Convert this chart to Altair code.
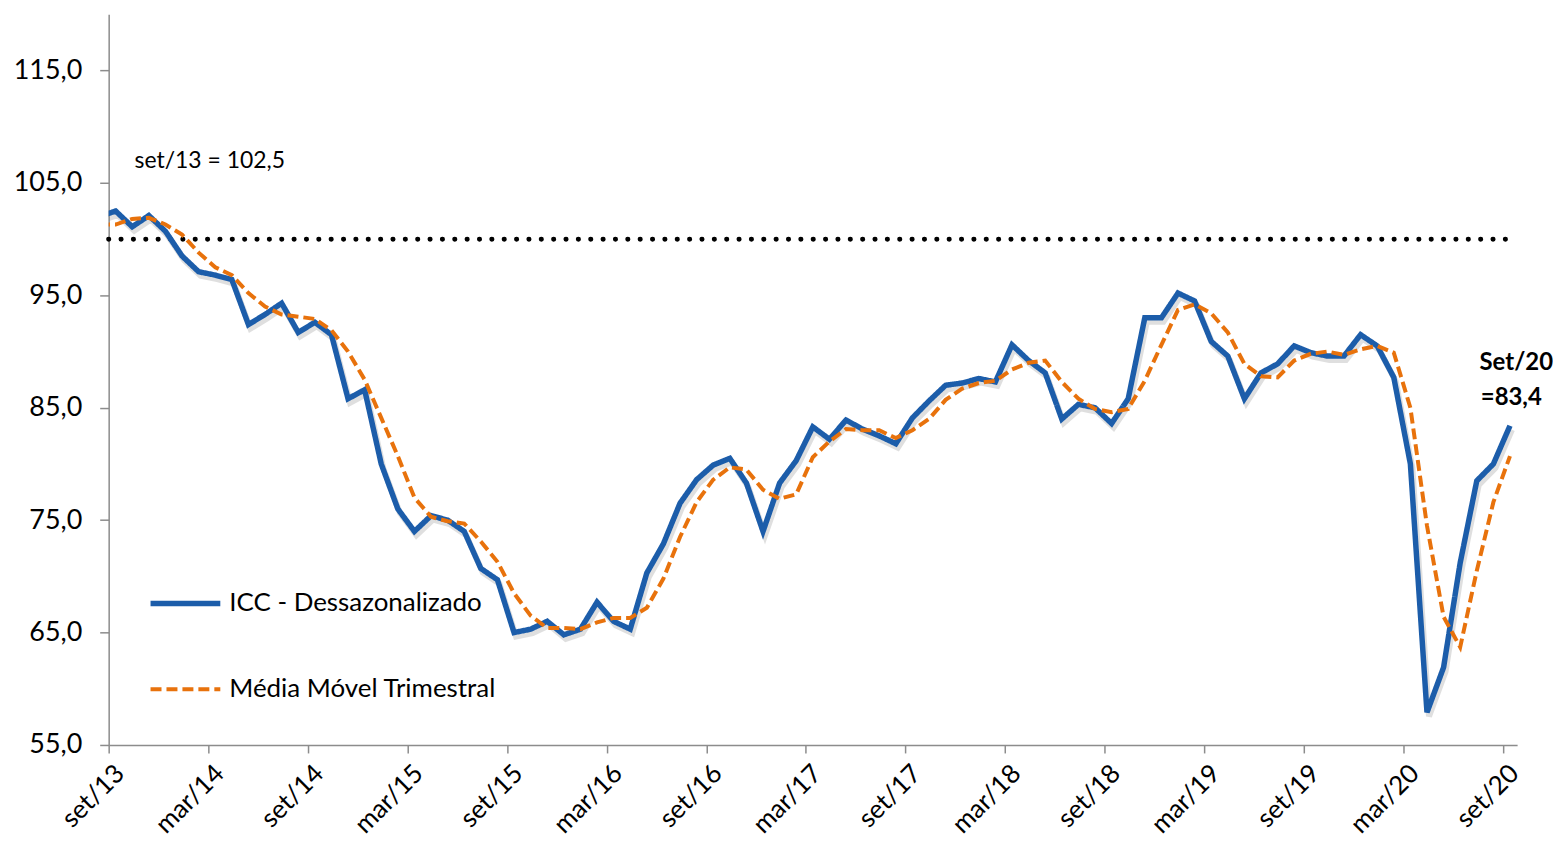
import altair as alt
import pandas as pd

# ---------------- data ----------------
series_names = ["ICC - Dessazonalizado", "Média Móvel Trimestral"]

# monthly values, ago/13 ... set/20 (first value lies just left of the axis)
icc = [102.0, 102.5, 101.1, 102.1, 100.7, 98.5, 97.1, 96.8, 96.4, 92.4,
       93.3, 94.3, 91.7, 92.6, 91.5, 85.8, 86.6, 80.0, 76.0, 74.0,
       75.4, 75.0, 74.0, 70.7, 69.7, 65.0, 65.3, 66.0, 64.8, 65.3,
       67.7, 66.0, 65.3, 70.3, 72.9, 76.5, 78.6, 79.9, 80.5, 78.3,
       74.0, 78.3, 80.3, 83.3, 82.2, 83.9, 83.1, 82.5, 81.8, 84.1,
       85.6, 87.0, 87.2, 87.6, 87.3, 90.6, 89.2, 88.1, 84.0, 85.3,
       85.0, 83.6, 85.8, 93.0, 93.0, 95.2, 94.5, 90.9, 89.6, 85.8,
       88.1, 88.9, 90.5, 89.9, 89.6, 89.6, 91.5, 90.5, 87.7, 80.0,
       57.9, 61.9, 71.2, 78.5, 80.0, 83.4]

mm3 = [101.3, 101.3, 101.8, 101.9, 101.3, 100.4, 98.8, 97.5, 96.8, 95.2,
       94.0, 93.3, 93.1, 92.9, 91.9, 90.0, 87.5, 84.1, 80.7, 77.0,
       75.3, 74.9, 74.7, 73.1, 71.3, 68.5, 66.5, 65.4, 65.4, 65.3,
       65.9, 66.3, 66.3, 67.2, 69.8, 73.5, 76.6, 78.6, 79.7, 79.5,
       77.7, 76.9, 77.3, 80.6, 82.0, 83.1, 83.0, 83.0, 82.3, 83.0,
       84.0, 85.7, 86.7, 87.2, 87.4, 88.4, 89.0, 89.2, 87.3, 85.8,
       84.9, 84.6, 84.9, 87.4, 90.6, 93.7, 94.2, 93.4, 91.7, 88.9,
       87.8, 87.7, 89.2, 89.8, 90.0, 89.7, 90.2, 90.5, 89.9, 85.0,
       74.5, 66.4, 63.7, 70.5, 76.6, 80.7]

tick_labels = ["set/13", "mar/14", "set/14", "mar/15", "set/15", "mar/16",
               "set/16", "mar/17", "set/17", "mar/18", "set/18", "mar/19",
               "set/19", "mar/20", "set/20"]
y_ticks = [55, 65, 75, 85, 95, 105, 115]
base_value = 100

ann_text = ["set/13 = 102,5", "Set/20", "=83,4"]
ann_x = [1.56, 84.8, 84.5]
ann_y = [106.97, 89.0, 85.9]
ann_bold = [False, True, True]

assert len(icc) == len(mm3) == 86

first_month = -1      # ago/13, in months after set/13
mid_month = 0.42      # values are plotted mid-month

rows = []
for i, (a, b) in enumerate(zip(icc, mm3)):
    t = first_month + i + mid_month
    rows.append({"t": t, "v": a, "serie": series_names[0]})
    rows.append({"t": t, "v": b, "serie": series_names[1]})
df = pd.DataFrame(rows)

ann = pd.DataFrame({"t": ann_x, "v": ann_y, "txt": ann_text, "bold": ann_bold})
ref = pd.DataFrame({"t": [0.0], "t2": [84.2], "v": [base_value]})

BLUE = "#1C5DAA"
ORANGE = "#E8720C"
FONT = "Lato"

label_expr_x = "[" + ",".join(f"'{l}'" for l in tick_labels) + "][round(datum.value/6)]"

x_scale = alt.Scale(domain=[0, 84.85], nice=False, zero=False)
y_scale = alt.Scale(domain=[55, 120], nice=False, zero=False)

x_axis = alt.Axis(values=list(range(0, 85, 6)), labelExpr=label_expr_x,
                  labelAngle=-45, labelAlign="right", labelBaseline="top",
                  labelFontSize=26, labelFont=FONT, labelColor="black",
                  tickSize=8, tickColor="#8c8c8c", domainColor="#8c8c8c",
                  domainWidth=1.5, tickWidth=1.5, labelPadding=7, labelOffset=2,
                  grid=False, title=None, labelOverlap=False, labelFlush=False,
                  labelBound=False)
y_axis = alt.Axis(values=y_ticks,
                  labelExpr="replace(format(datum.value, '.1f'), '.', ',')",
                  labelFontSize=27, labelFont=FONT, labelColor="black",
                  tickSize=9, tickColor="#8c8c8c", domainColor="#8c8c8c",
                  domainWidth=1.5, tickWidth=1.5, labelPadding=18,
                  grid=False, title=None)

legend = alt.Legend(orient="none", legendX=39, legendY=553, title=None,
                    symbolType="stroke", symbolSize=4900, symbolStrokeWidth=5,
                    labelFontSize=26, labelFont=FONT, labelColor="black",
                    labelLimit=0, labelOffset=6, rowPadding=36, padding=0)

base = alt.Chart(df)

refline = alt.Chart(ref).mark_rule(color="black", strokeWidth=5,
                                   strokeDash=[0.1, 12.3], strokeCap="round").encode(
    x=alt.X("t:Q", scale=x_scale, axis=x_axis),
    x2="t2:Q",
    y=alt.Y("v:Q", scale=y_scale, axis=y_axis),
)

shadow = base.transform_filter(alt.datum.serie == series_names[0]).mark_line(
    clip=True, color="#7f7f7f", opacity=0.25, strokeWidth=6,
    xOffset=2, yOffset=4, strokeJoin="miter").encode(
    x=alt.X("t:Q", scale=x_scale),
    y=alt.Y("v:Q", scale=y_scale),
)

lines = base.mark_line(clip=True, strokeJoin="miter").encode(
    x=alt.X("t:Q", scale=x_scale),
    y=alt.Y("v:Q", scale=y_scale),
    color=alt.Color("serie:N", scale=alt.Scale(domain=series_names, range=[BLUE, ORANGE]),
                    legend=legend),
    strokeDash=alt.StrokeDash("serie:N", scale=alt.Scale(domain=series_names,
                                                         range=[[1, 0], [11, 5]]),
                              legend=legend),
    strokeWidth=alt.StrokeWidth("serie:N", scale=alt.Scale(domain=series_names, range=[5.5, 4]),
                                legend=None),
    order=alt.Order("t:Q"),
)

texts_plain = alt.Chart(ann).transform_filter(~alt.datum.bold).mark_text(
    align="left", baseline="middle", fontSize=23, font=FONT, color="black").encode(
    x=alt.X("t:Q", scale=x_scale), y=alt.Y("v:Q", scale=y_scale), text="txt:N")

texts_bold = alt.Chart(ann).transform_filter(alt.datum.bold).mark_text(
    align="center", baseline="middle", fontSize=24, font=FONT, fontWeight="bold",
    color="black").encode(
    x=alt.X("t:Q", scale=x_scale), y=alt.Y("v:Q", scale=y_scale), text="txt:N")

chart = alt.layer(refline, shadow, lines, texts_plain, texts_bold).properties(
    width=1413, height=733,
    background="white",
    autosize=alt.AutoSizeParams(type="none"),
    padding={"left": 101, "top": 5, "right": 36, "bottom": 94},
).configure_view(stroke=None)

chart.save("out.html", embed_options={"renderer": "svg", "actions": False})
